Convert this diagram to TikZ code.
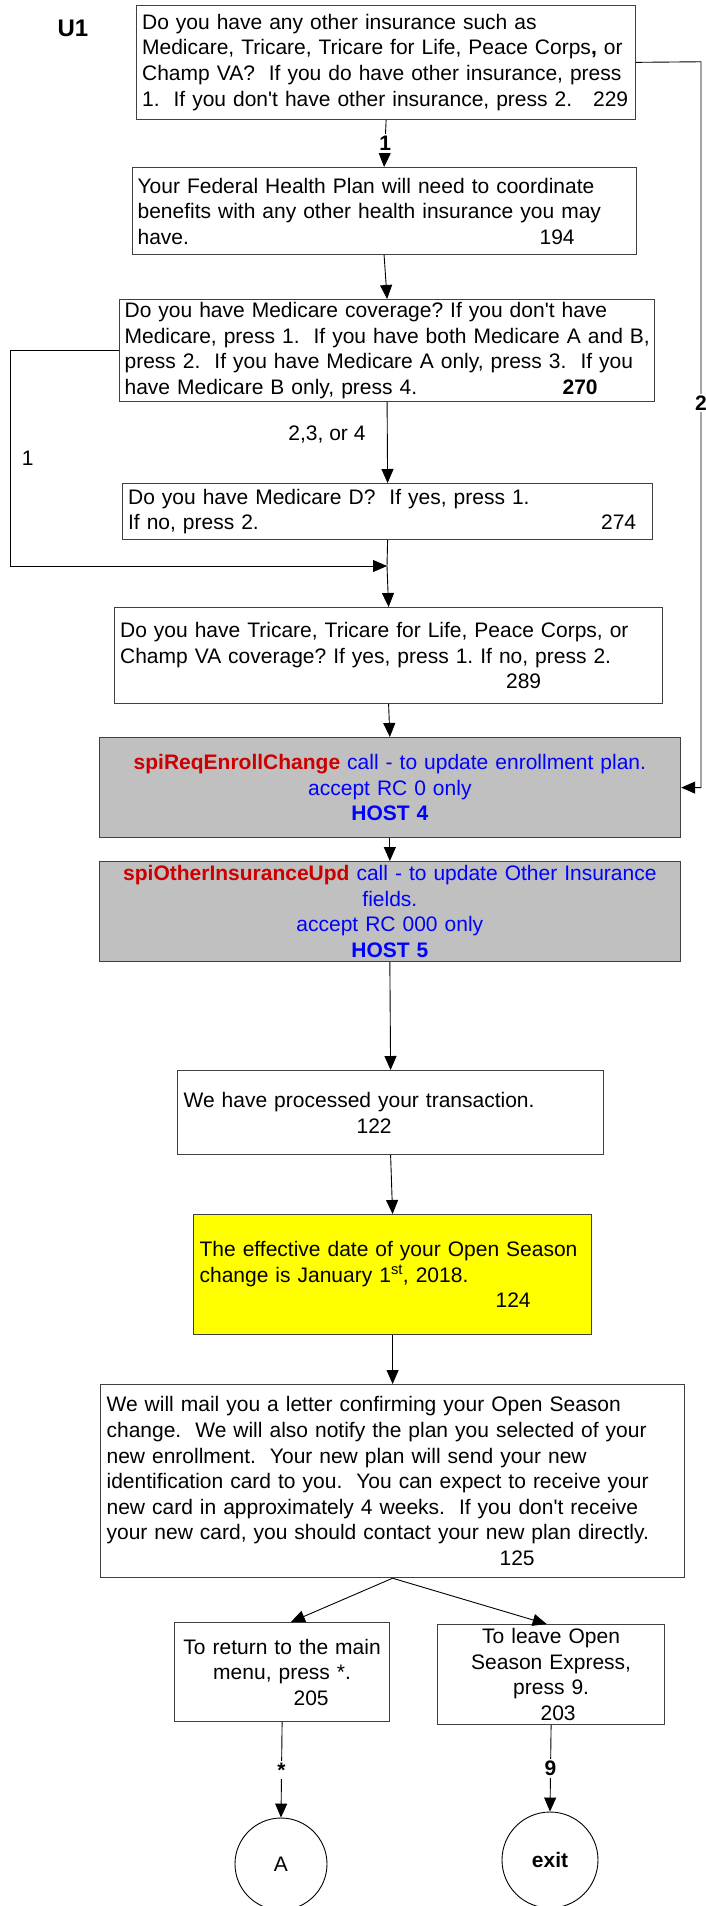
\documentclass[tikz,border=0pt]{standalone}
\usepackage{fontspec}
\setmainfont{Liberation Sans}[Ligatures=TeXOff]
\usepackage{tikz}
\usetikzlibrary{arrows.meta , shapes.geometric}

\definecolor{spired}{HTML}{CC0000}
\definecolor{hostblue}{HTML}{0000FF}
\definecolor{hostgray}{HTML}{C0C0C0}
\definecolor{noteyellow}{HTML}{FFFF00}
\definecolor{boxline}{HTML}{404040}
\newcommand{\boxfont}{\fontsize{21}{25.6}\selectfont\frenchspacing}

\begin{document}
\begin{tikzpicture}[x = 1pt , y = -1pt ,
    box/.style = {draw = boxline , line width = 1.2pt , anchor = north west , inner xsep = 5.5pt , inner ysep = 0pt , align = left , font = \boxfont},
    hostbox/.style = {box , fill = hostgray , align = center , text = hostblue},
    arr/.style = {-{Triangle[length = 14pt , width = 12pt]} , line width = 0.9pt},
    lbl/.style = {fill = white , font = \boxfont\bfseries , inner sep = 2pt},
    endcircle/.style = {draw , circle , line width = 0.9pt , font = \boxfont}]
    \useasboundingbox (0,0) rectangle (705,1906);

    \node[font = \fontsize{24}{28}\selectfont\bfseries] (u1) at (73,28) {U1};

    % Fragen
    \node[box , minimum width = 499pt , minimum height = 114.5pt , text width = 488pt] (q229) at (136,4.5)
        {Do you have any other insurance such as\\
         Medicare, Tricare, Tricare for Life, Peace Corps\textbf{,} or\\
         Champ VA?\ \ If you do have other insurance, press\\
         1.\ \ If you don't have other insurance, press 2.\ \ \ 229};
    \node[box , minimum width = 504pt , minimum height = 87pt , text width = 493pt] (q194) at (131.5,167)
        {Your Federal Health Plan will need to coordinate\\
         benefits with any other health insurance you may\\
         \makebox[402pt][l]{have.}194};
    \node[box , inner xsep = 5pt , minimum width = 535pt , minimum height = 102pt , text width = 525pt] (q270) at (119,299)
        {Do you have Medicare coverage? If you don't have\\
         \mbox{Medicare, press 1.\ \ If you have both Medicare A and B,}\\
         press 2.\ \ If you have Medicare A only, press 3.\ \ If you\\
         \makebox[438pt][l]{have Medicare B only, press 4.}\textbf{270}};
    \node[box , minimum width = 530pt , minimum height = 56pt , text width = 519pt] (q274) at (122,483)
        {Do you have Medicare D?\ \ If yes, press 1.\\
         \makebox[473pt][l]{If no, press 2.}274};
    \node[box , minimum width = 548pt , minimum height = 96pt , text width = 537pt] (q289) at (114,607)
        {Do you have Tricare, Tricare for Life, Peace Corps, or\\
         Champ VA coverage? If yes, press 1. If no, press 2.\\
         \hspace*{386pt}289};

    % Host-Aufrufe
    \node[hostbox , minimum width = 581.5pt , minimum height = 100pt , text width = 570pt] (host4) at (98.5,737)
        {\textcolor{spired}{\textbf{spiReqEnrollChange}} call - to update enrollment plan.\\
         accept RC 0 only\\
         \textbf{HOST 4}};
    \node[hostbox , minimum width = 581.5pt , minimum height = 100pt , text width = 570pt] (host5) at (98.5,861)
        {\textcolor{spired}{\textbf{spiOtherInsuranceUpd}} call - to update Other Insurance\\
         fields.\\
         accept RC 000 only\\
         \textbf{HOST 5}};

    % Ansagen
    \node[box , inner xsep = 6pt , minimum width = 426pt , minimum height = 84pt , text width = 414pt] (m122) at (177,1070)
        {We have processed your transaction.\\
         \hspace*{173pt}122};
    \node[box , fill = noteyellow , inner xsep = 6pt , minimum width = 398pt , minimum height = 120pt , text width = 386pt] (m124) at (193,1214)
        {The effective date of your Open Season\\
         change is January 1\textsuperscript{st}, 2018.\\
         \hspace*{296pt}124};
    \node[box , inner xsep = 6pt , minimum width = 584pt , minimum height = 193pt , text width = 572pt] (m125) at (100,1384)
        {We will mail you a letter confirming your Open Season\\
         change.\ \ We will also notify the plan you selected of your\\
         new enrollment.\ \ Your new plan will send your new\\
         identification card to you.\ \ You can expect to receive your\\
         new card in approximately 4 weeks.\ \ If you don't receive\\
         your new card, you should contact your new plan directly.\\
         \hspace*{393pt}125};
    \node[box , align = center , inner xsep = 6pt , minimum width = 215pt , minimum height = 99pt , text width = 203pt] (m205) at (174,1622)
        {To return to the main\\
         menu, press *.\\
         \hspace*{58pt}205};
    \node[box , align = center , inner xsep = 6pt , minimum width = 227pt , minimum height = 100pt , text width = 215pt] (m203) at (437,1624)
        {To leave Open\\
         Season Express,\\
         press 9.\\
         \hspace*{14pt}203};

    % Ziele
    \node[endcircle , minimum size = 92pt] (toA) at (281,1864) {A};
    \node[endcircle , minimum size = 96pt , font = \boxfont\bfseries] (toexit) at (550,1860) {exit};

    % Verbindungen
    \draw[arr] (q229.south) -- node[midway , lbl]{1} (q194.north);
    \draw[arr] (q194.south) -- (q270.north);
    \draw[arr] (q270.south) -- node[pos = 0.4 , left = 18pt , font = \boxfont]{2,3, or 4} (q274.north);
    \coordinate (merge) at (387,566);
    \coordinate (leftturn) at (10,566);
    \draw[line width = 0.9pt] (q274.south) -- (merge);
    \draw[arr] (q270.west) -| node[pos = 0.75 , right = 8pt , font = \boxfont]{1} (leftturn) -- (merge);
    \draw[arr] (merge) -- (q289.north);
    \draw[arr] (q289.south) -- (host4.north);
    \coordinate (rightturn) at (701,61.75);
    \draw[arr] (q229.east) -- (rightturn) |- node[pos = 0.235 , lbl]{2} (host4.east);
    \draw[arr] (host4.south) -- (host5.north);
    \draw[arr] (host5.south) -- (m122.north);
    \draw[arr] (m122.south) -- (m124.north);
    \draw[arr] (m124.south) -- (m125.north);
    \draw[arr] (m125.south) -- (m205.80);
    \draw[arr] (m125.south) -- (m203.95);
    \draw[arr] (m205.south) -- node[midway , lbl]{*} (toA.north);
    \draw[arr] (m203.south) -- node[midway , lbl]{9} (toexit.north);
\end{tikzpicture}
\end{document}
